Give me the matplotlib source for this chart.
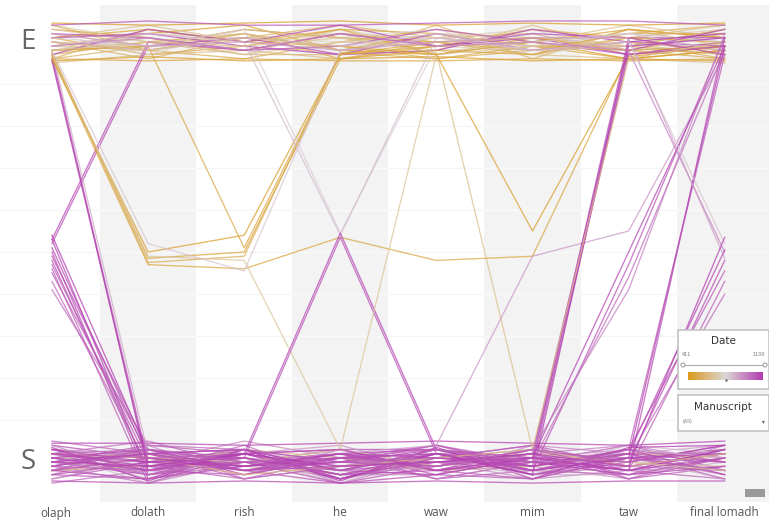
import numpy as np
import matplotlib
matplotlib.use("Agg")
import matplotlib.pyplot as plt
from matplotlib.colors import LinearSegmentedColormap, Normalize
from matplotlib.patches import Rectangle, Circle

# letters (axes of the parallel plot)
letters = ["olaph", "dolath", "rish", "he", "waw", "mim", "taw", "final lomadh"]
# 1.0 = E form, 0.0 = S form, in between = mixed
date_min, date_max = 411, 1100

# lines that stay in the E band
e_dates = [420, 440, 460, 480, 500, 520, 540, 560, 580, 600, 620, 650, 680, 700, 730,
           760, 790, 450, 550, 640, 690, 1080, 520, 1030, 1060, 610, 445, 470, 430, 1050]
e_vals = [
    [1.03, 1.01, 0.98, 1.02, 1.00, 0.97, 1.03, 1.01],
    [0.99, 1.02, 1.04, 0.98, 0.97, 1.01, 0.99, 1.03],
    [1.01, 0.97, 0.99, 1.03, 1.02, 0.99, 0.96, 0.98],
    [0.97, 1.00, 1.02, 0.96, 0.99, 1.03, 1.01, 0.97],
    [1.04, 0.98, 0.96, 1.00, 1.03, 1.00, 1.02, 1.04],
    [0.96, 1.03, 1.00, 0.99, 0.96, 0.98, 1.00, 0.96],
    [1.00, 0.96, 1.01, 1.04, 1.01, 1.02, 0.97, 1.00],
    [0.98, 1.01, 0.97, 0.97, 1.04, 0.96, 1.03, 0.99],
    [1.02, 0.99, 1.03, 1.01, 0.98, 1.04, 0.98, 1.02],
    [0.95, 0.97, 0.98, 0.96, 1.00, 0.97, 0.96, 0.95],
    [1.01, 1.04, 1.00, 1.02, 0.97, 1.00, 1.04, 1.01],
    [0.99, 0.98, 1.02, 0.98, 1.02, 1.01, 0.99, 0.97],
    [1.03, 1.00, 0.97, 1.03, 0.99, 0.98, 1.01, 1.03],
    [0.97, 1.02, 1.01, 1.00, 1.01, 1.03, 0.97, 1.00],
    [1.00, 0.99, 0.99, 0.97, 0.98, 0.99, 1.02, 0.98],
    [1.02, 0.97, 1.03, 1.01, 1.03, 0.97, 1.00, 1.02],
    [0.98, 1.01, 0.98, 0.99, 1.00, 1.02, 0.98, 0.99],
    [1.01, 1.03, 1.00, 1.03, 0.97, 1.00, 1.03, 1.01],
    [0.96, 0.99, 1.02, 0.98, 1.02, 0.98, 0.99, 0.97],
    [1.04, 1.00, 0.97, 1.00, 0.99, 1.01, 1.01, 1.04],
    [0.99, 0.98, 1.01, 1.02, 1.01, 0.99, 0.98, 1.00],
    [1.01, 1.02, 0.99, 0.97, 0.98, 1.03, 1.00, 0.98],
    [0.98, 0.99, 1.03, 1.01, 1.00, 0.98, 1.02, 1.02],
    [1.02, 1.01, 0.98, 0.99, 1.03, 1.00, 0.97, 0.99],
    [0.97, 1.03, 1.00, 1.04, 0.99, 1.02, 1.01, 1.01],
    [1.00, 0.98, 1.02, 0.98, 1.01, 0.99, 0.99, 1.03],
    [0.955, 0.965, 0.955, 0.96, 0.965, 0.955, 0.96, 0.955],
    [0.96, 0.955, 0.96, 0.955, 0.955, 0.96, 0.955, 0.96],
    [1.045, 1.04, 1.045, 1.05, 1.04, 1.045, 1.04, 1.045],
    [1.04, 1.05, 1.04, 1.04, 1.045, 1.05, 1.05, 1.04],
]

# lines that stay in the S band
s_dates = [1100, 1090, 1080, 1070, 1060, 1050, 1040, 1030, 1020, 1010, 1000, 990, 980, 970, 960,
           950, 940, 930, 920, 910, 900, 880, 860, 840, 820, 680, 620, 1085, 1075, 1095]
s_vals = [
    [0.03, -0.02, 0.01, -0.04, 0.02, -0.01, 0.03, 0.00],
    [-0.01, 0.03, -0.03, 0.01, -0.02, 0.03, -0.01, 0.02],
    [0.04, 0.01, 0.02, -0.02, 0.00, 0.01, 0.02, -0.03],
    [-0.03, -0.04, 0.00, 0.03, 0.03, -0.03, 0.00, 0.04],
    [0.01, 0.02, -0.02, -0.05, -0.01, 0.02, -0.03, 0.01],
    [-0.04, 0.00, 0.03, 0.00, 0.04, 0.00, 0.04, -0.02],
    [0.02, -0.03, -0.01, 0.02, -0.03, -0.04, 0.01, 0.03],
    [0.00, 0.04, 0.02, -0.03, 0.01, 0.04, -0.04, -0.01],
    [-0.02, -0.01, -0.04, 0.01, -0.04, -0.02, 0.02, 0.02],
    [0.05, 0.02, 0.01, -0.01, 0.02, 0.01, -0.02, -0.04],
    [-0.05, -0.02, 0.04, -0.04, 0.00, -0.01, 0.03, 0.01],
    [0.02, 0.05, -0.01, 0.02, -0.02, 0.03, 0.00, 0.03],
    [-0.01, -0.05, 0.00, -0.02, 0.03, -0.03, -0.01, -0.02],
    [0.03, 0.01, -0.03, 0.03, -0.01, 0.02, 0.04, 0.00],
    [0.00, -0.01, 0.03, -0.05, 0.01, 0.00, -0.03, 0.04],
    [-0.03, 0.03, -0.02, 0.00, 0.04, -0.02, 0.01, -0.03],
    [0.04, -0.03, 0.01, -0.03, -0.03, 0.04, 0.02, 0.02],
    [0.01, 0.00, 0.05, 0.01, 0.00, -0.04, -0.02, -0.01],
    [-0.02, 0.04, -0.04, -0.01, 0.02, 0.01, 0.03, 0.01],
    [0.02, -0.04, 0.02, 0.04, -0.02, -0.01, -0.04, 0.03],
    [-0.04, 0.01, 0.00, -0.04, 0.01, 0.03, 0.00, -0.02],
    [0.03, 0.02, -0.01, 0.02, -0.04, 0.00, 0.02, 0.04],
    [0.00, -0.02, 0.02, -0.02, 0.03, -0.03, -0.03, 0.00],
    [-0.01, 0.03, -0.02, 0.00, -0.01, 0.02, 0.01, -0.04],
    [0.02, -0.05, 0.01, -0.05, 0.02, -0.02, 0.04, 0.02],
    [0.01, 0.02, -0.01, -0.03, 0.01, 0.02, 0.00, -0.01],
    [-0.02, -0.01, 0.03, 0.01, -0.02, -0.01, 0.02, 0.01],
    [0.045, 0.045, 0.04, 0.045, 0.05, 0.045, 0.04, 0.05],
    [-0.045, -0.05, -0.045, -0.05, -0.045, -0.05, -0.045, -0.045],
    [0.035, -0.045, 0.03, -0.045, 0.035, -0.04, 0.035, 0.04],
]

# lines that switch between forms
x_dates = [1100, 1090, 1080, 1070, 1060, 1050, 1040, 1030, 1020, 1010, 1000,
           1080, 1060,
           1070, 1000, 850, 1090,
           430, 450, 470, 500, 800, 480, 650,
           780, 820, 1080, 1050,
           640, 620, 440, 900,
           1090, 1070, 1040, 1100, 1060, 600,
           1080, 1050, 1000, 950,
           1090, 1060, 1030,
           800, 950, 880,
           1100, 1080, 1070, 1050, 1030, 1010]
x_vals = [
    [0.54, 0.02, -0.01, 0.00, 0.03, -0.02, 0.01, 0.02],
    [0.53, -0.03, 0.02, -0.04, 0.01, 0.00, -0.03, -0.01],
    [0.51, 0.01, -0.02, 0.02, -0.01, 0.03, 0.00, 0.04],
    [0.50, -0.04, 0.03, -0.02, 0.02, -0.03, 0.02, 0.00],
    [0.49, 0.03, 0.00, -0.05, -0.03, 0.01, -0.02, 0.03],
    [0.48, -0.02, -0.03, 0.01, 0.04, -0.01, 0.03, -0.03],
    [0.47, 0.00, 0.01, -0.03, 0.00, 0.02, -0.04, 0.01],
    [0.46, -0.05, 0.02, 0.03, -0.02, -0.04, 0.01, -0.02],
    [0.45, 0.02, -0.04, -0.01, 0.01, 0.04, -0.01, 0.02],
    [0.43, -0.01, 0.00, 0.02, -0.04, 0.00, 0.02, -0.04],
    [0.41, 0.04, 0.03, -0.02, 0.02, -0.02, -0.03, 0.01],
    [0.53, 1.00, 0.98, 1.02, 0.99, 1.01, 0.97, 1.00],
    [0.52, 0.99, 1.01, 0.97, 1.02, 0.98, 1.00, 0.99],
    [0.97, -0.02, 0.01, -0.03, 0.02, 0.00, -0.01, 0.02],
    [0.96, 0.00, -0.02, 0.01, -0.01, 0.02, 0.01, -0.02],
    [0.98, 0.02, 0.03, -0.01, 0.00, -0.03, 0.03, 0.01],
    [0.955, -0.01, 0.00, 0.02, 0.03, 0.01, -0.02, 0.03],
    [0.96, 0.50, 0.54, 0.97, 0.99, 1.00, 0.96, 0.98],
    [0.97, 0.485, 0.50, 0.96, 0.98, 0.97, 1.01, 1.00],
    [0.965, 0.47, 0.46, 0.535, 0.48, 0.49, 0.97, 0.99],
    [0.975, 0.475, 0.49, 0.975, 0.96, 0.99, 0.98, 0.96],
    [0.98, 0.52, 0.455, 0.98, 1.01, 0.99, 1.02, 1.00],
    [0.98, 0.99, 0.51, 0.97, 1.00, 1.01, 0.98, 0.99],
    [0.97, 0.49, 0.48, 0.03, -0.01, 0.02, 0.00, -0.02],
    [1.01, 0.99, 1.03, 0.545, 0.99, 1.00, 1.02, 0.98],
    [0.99, 1.02, 1.00, 0.54, 1.01, 0.98, 0.99, 1.01],
    [0.02, -0.01, 0.02, 0.545, 0.03, 0.00, -0.02, 0.01],
    [-0.01, 0.03, 0.01, 0.535, 0.02, -0.03, 0.01, 0.00],
    [-0.02, 0.01, 0.00, 0.03, 0.97, 0.99, 1.00, 0.98],
    [0.98, 1.00, 0.99, 1.01, 0.975, 0.03, -0.01, 0.02],
    [1.00, 0.98, 1.01, 0.99, 0.97, 0.55, 0.965, 0.99],
    [0.01, -0.02, 0.00, 0.02, 0.04, 0.49, 0.55, 0.97],
    [0.01, 0.03, -0.02, 0.00, -0.01, 0.02, 0.99, 1.01],
    [-0.03, 0.00, 0.02, -0.02, 0.03, -0.01, 0.98, 1.03],
    [0.03, -0.02, 0.00, 0.01, 0.00, 0.01, 0.97, 0.99],
    [0.00, 0.02, 0.03, -0.04, 0.02, -0.03, 1.00, 1.02],
    [-0.02, -0.04, -0.01, 0.02, -0.02, 0.00, 1.01, 0.97],
    [0.02, 0.01, -0.03, -0.01, 0.01, 0.03, 0.96, 1.00],
    [0.00, -0.01, 0.02, 0.03, -0.02, 0.01, 0.50, 0.99],
    [0.02, 0.01, -0.02, -0.01, 0.00, -0.02, 0.47, 1.01],
    [-0.02, 0.03, 0.00, 0.01, 0.03, 0.00, 0.44, 0.98],
    [0.01, -0.03, 0.01, -0.03, -0.01, 0.03, 0.41, 1.02],
    [0.02, 0.00, -0.01, 0.01, 0.02, -0.02, 0.01, 0.99],
    [-0.01, 0.02, 0.03, -0.02, -0.03, 0.01, -0.02, 1.01],
    [0.00, -0.03, 0.00, 0.00, 0.01, -0.01, 0.03, 0.97],
    [1.00, 0.98, 1.01, 0.99, 1.02, 0.98, 1.00, 0.52],
    [0.99, 1.01, 0.98, 1.02, 0.99, 1.00, 0.98, 0.50],
    [1.02, 0.99, 1.00, 0.98, 1.00, 1.01, 1.01, 0.485],
    [0.01, -0.02, 0.02, -0.01, 0.00, 0.02, -0.01, 0.535],
    [-0.02, 0.01, -0.01, 0.02, 0.01, -0.01, 0.02, 0.505],
    [0.03, 0.00, 0.01, -0.03, -0.02, 0.01, 0.00, 0.48],
    [0.00, 0.02, -0.02, 0.01, 0.02, -0.02, 0.03, 0.455],
    [-0.01, -0.02, 0.03, 0.00, -0.01, 0.03, -0.02, 0.43],
    [0.02, 0.03, 0.00, -0.02, 0.03, 0.00, 0.01, 0.40],
]

dates = e_dates + s_dates + x_dates
values = e_vals + s_vals + x_vals

W, H = 769, 522
X0, DX = 52, 96.1   # pixel position of first letter axis, spacing
fig = plt.figure(figsize=(W / 100, H / 100), dpi=100)
fig.patch.set_facecolor("white")

cmap = LinearSegmentedColormap.from_list("date", ["#d99a1e", "#dcd7d6", "#b23ab0"])
norm = Normalize(date_min, date_max)

ax = fig.add_axes([0, 20 / H, 1, 497 / H])
ax.set_xlim(-X0 / DX, (W - X0) / DX)
ax.set_ylim(-0.095, 1.088)
ax.axis("off")

# grid lines and alternating bands
for g in np.arange(0.1, 0.95, 0.1):
    ax.axhline(g, color="#f5f5f5", lw=1.0, zorder=0)
for i in range(1, len(letters), 2):
    ax.axvspan(i - 0.5, i + 0.5, color="#f3f3f3", lw=0, zorder=0.5)
    ax.hlines(np.arange(0.1, 0.95, 0.1), i - 0.5, i + 0.5, color="#f9f9f9", lw=1.0, zorder=0.6)

xs = np.arange(len(letters))
for d, v in zip(dates, values):
    ax.plot(xs, v, color=cmap(norm(d)), lw=0.95, alpha=0.72, zorder=2)

# overlay in pixel units for text and legend boxes
ov = fig.add_axes([0, 0, 1, 1], facecolor="none")

ov.text(28, 42, "E", fontsize=20, color="#666666", ha="center", va="center", family="Open Sans")
ov.text(28, 462, "S", fontsize=20, color="#666666", ha="center", va="center", family="Open Sans")
for i, lab in enumerate(letters):
    ov.text(X0 + DX * i + (4 if i == 0 else 0), 513, lab, fontsize=8.5, color="#555555",
            ha="center", va="center", family="Open Sans")

# Date legend
ov.add_patch(Rectangle((678, 330), 91, 59, facecolor="white", edgecolor="#c4c4c4", lw=1.2, zorder=5))
ov.text(723, 341, "Date", fontsize=7.5, color="#333333", ha="center", va="center", zorder=6)
ov.text(682, 355, "411", fontsize=3.5, color="#777777", ha="left", va="center", zorder=6)
ov.text(765, 355, "1100", fontsize=3.5, color="#777777", ha="right", va="center", zorder=6)
ov.plot([683, 765], [365, 365], color="#aaaaaa", lw=0.8, zorder=6)
for cx in (683, 765):
    ov.add_patch(Circle((cx, 365), 2, facecolor="white", edgecolor="#999999", lw=0.7, zorder=7))
grad = np.linspace(0, 1, 200).reshape(1, -1)
ov.imshow(grad, cmap=cmap, extent=(688, 763, 380, 372), aspect="auto", zorder=6)
ov.plot([726], [380], marker=".", ms=1.5, color="#666666", zorder=7)

# Manuscript legend
ov.add_patch(Rectangle((678, 395), 91, 36, facecolor="white", edgecolor="#c4c4c4", lw=1.2, zorder=5))
ov.text(723, 407, "Manuscript", fontsize=7.5, color="#333333", ha="center", va="center", zorder=6)
ov.text(683, 422, "(All)", fontsize=3.5, color="#777777", ha="left", va="center", zorder=6)
ov.text(763, 422, "▾", fontsize=4, color="#555555", ha="center", va="center", zorder=6)

ov.add_patch(Rectangle((745, 489), 20, 8, facecolor="#9a9a9a", edgecolor="none", zorder=5))

ov.set_xlim(0, W)
ov.set_ylim(H, 0)
ov.axis("off")

fig.savefig("out.png", dpi=100)
